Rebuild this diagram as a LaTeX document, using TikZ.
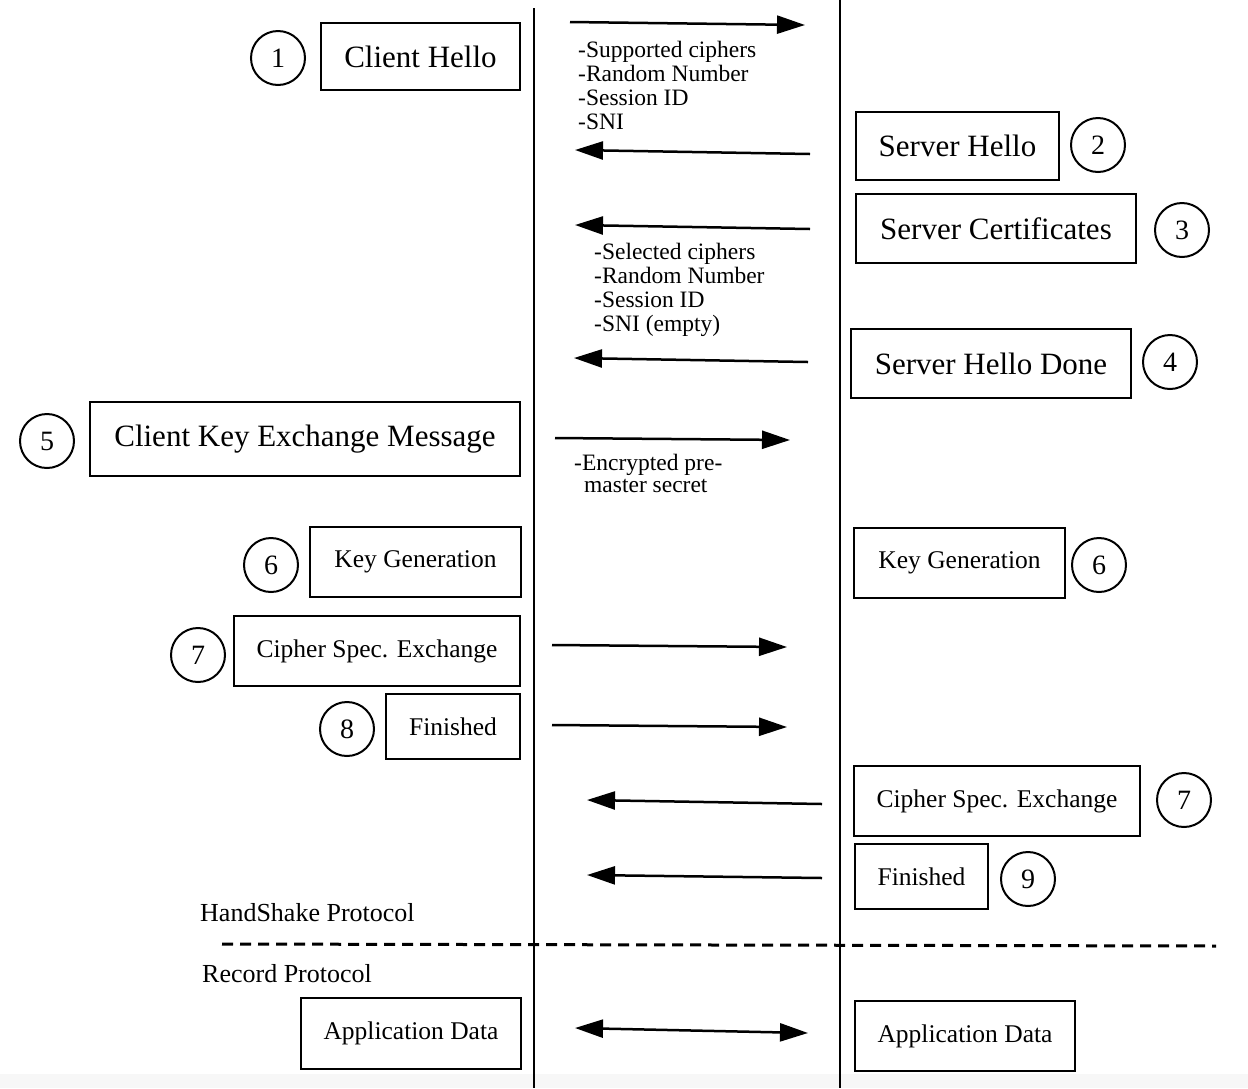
\documentclass[tikz,border=0pt]{standalone}
\usepackage{fontspec}
\setmainfont{Liberation Serif}
\usetikzlibrary{arrows.meta}
\begin{document}
\begin{tikzpicture}[x=1pt,y=-1pt,
 box/.style={draw, line width=2.4pt, inner sep=0pt, rectangle},
 num/.style={draw, circle, line width=2pt, minimum size=54pt, inner sep=0pt, font=\fontsize{28}{28}\selectfont},
 big/.style={font=\fontsize{31}{31}\selectfont},
 small/.style={font=\fontsize{25.5}{26}\selectfont},
 msg/.style={arrows={-Triangle[length=28pt,width=18pt]}, line width=2.5pt},
 both/.style={arrows={Triangle[length=28pt,width=18pt]-Triangle[length=28pt,width=18pt]}, line width=2.5pt},
 life/.style={line width=2.4pt},
 note/.style={anchor=north west, align=left, inner sep=0pt, font=\fontsize{23.5}{24}\selectfont},
 proto/.style={anchor=west, inner sep=0pt, font=\fontsize{26}{26}\selectfont}]
\useasboundingbox (0,0) rectangle (1248,1088);
\fill[gray!6] (0,1074) rectangle (1248,1088);

% lifelines
\coordinate (cTop) at (534,8);
\coordinate (cBot) at (534,1088);
\coordinate (sTop) at (840,0);
\coordinate (sBot) at (840,1088);
\draw[life] (cTop) -- (cBot);
\draw[life] (sTop) -- (sBot);

% boxes
\node[box, big, minimum width=199pt, minimum height=67pt] (ch) at (420.5,56.5) {Client Hello};
\node[box, big, minimum width=203pt, minimum height=68pt] (sh) at (957.5,146) {Server Hello};
\node[box, big, minimum width=280pt, minimum height=69pt] (sc) at (996,228.5) {Server Certificates};
\node[box, big, minimum width=280pt, minimum height=69pt] (shd) at (991,363.5) {Server Hello Done};
\node[box, big, minimum width=430pt, minimum height=74pt] (ck) at (305,439) {Client Key Exchange Message};
\node[box, small, minimum width=211pt, minimum height=70pt] (kgl) at (415.5,562) {Key Generation};
\node[box, small, minimum width=211pt, minimum height=70pt] (kgr) at (959.5,563) {Key Generation};
\node[box, small, minimum width=286pt, minimum height=70pt] (csl) at (377,651) {Cipher Spec. Exchange};
\node[box, small, minimum width=134pt, minimum height=65pt] (fl) at (453,726.5) {Finished};
\node[box, small, minimum width=286pt, minimum height=70pt] (csr) at (997,801) {Cipher Spec. Exchange};
\node[box, small, minimum width=133pt, minimum height=65pt] (fr) at (921.5,876.5) {Finished};
\node[box, small, minimum width=220pt, minimum height=71pt] (adl) at (411,1033.5) {Application Data};
\node[box, small, minimum width=220pt, minimum height=70pt] (adr) at (965,1036) {Application Data};

% step numbers
\node[num] (n1) at (278,58) {1};
\node[num] (n2) at (1098,145) {2};
\node[num] (n3) at (1182,230) {3};
\node[num] (n4) at (1170,362) {4};
\node[num] (n5) at (47,441) {5};
\node[num] (n6l) at (271,565) {6};
\node[num] (n6r) at (1099,565) {6};
\node[num] (n7l) at (198,655) {7};
\node[num] (n8) at (347,729) {8};
\node[num] (n7r) at (1184,800) {7};
\node[num] (n9) at (1028,879) {9};

% message arrows
\coordinate (a1s) at (570,22);  \coordinate (a1e) at (805,25);
\coordinate (a2s) at (810,154); \coordinate (a2e) at (575,150);
\coordinate (a3s) at (810,229); \coordinate (a3e) at (575,225);
\coordinate (a4s) at (808,362); \coordinate (a4e) at (574,358);
\coordinate (a5s) at (555,438); \coordinate (a5e) at (790,440);
\coordinate (a6s) at (552,645); \coordinate (a6e) at (787,647);
\coordinate (a7s) at (552,725); \coordinate (a7e) at (787,727);
\coordinate (a8s) at (822,804); \coordinate (a8e) at (587,800);
\coordinate (a9s) at (822,878); \coordinate (a9e) at (587,875);
\coordinate (a10s) at (575,1028); \coordinate (a10e) at (808,1033);
\draw[msg] (a1s) -- (a1e);
\draw[msg] (a2s) -- (a2e);
\draw[msg] (a3s) -- (a3e);
\draw[msg] (a4s) -- (a4e);
\draw[msg] (a5s) -- (a5e);
\draw[msg] (a6s) -- (a6e);
\draw[msg] (a7s) -- (a7e);
\draw[msg] (a8s) -- (a8e);
\draw[msg] (a9s) -- (a9e);
\draw[both] (a10s) -- (a10e);

% message contents
\node[note] (t1) at (578,41) {-Supported ciphers\\-Random Number\\-Session ID\\-SNI};
\node[note] (t2) at (594,243) {-Selected ciphers\\-Random Number\\-Session ID\\-SNI (empty)};
\node[note, font=\fontsize{23.5}{22}\selectfont] (t3) at (574,454) {-Encrypted pre-\\\hspace*{10pt}master secret};

% protocol separator
\node[proto] (hs) at (200,913) {HandShake Protocol};
\node[proto] (rp) at (202,974) {Record Protocol};
\coordinate (dL) at (222,944);
\coordinate (dR) at (1216,946);
\draw[line width=3pt, dash pattern=on 11pt off 7pt] (dL) -- (dR);
\end{tikzpicture}
\end{document}
